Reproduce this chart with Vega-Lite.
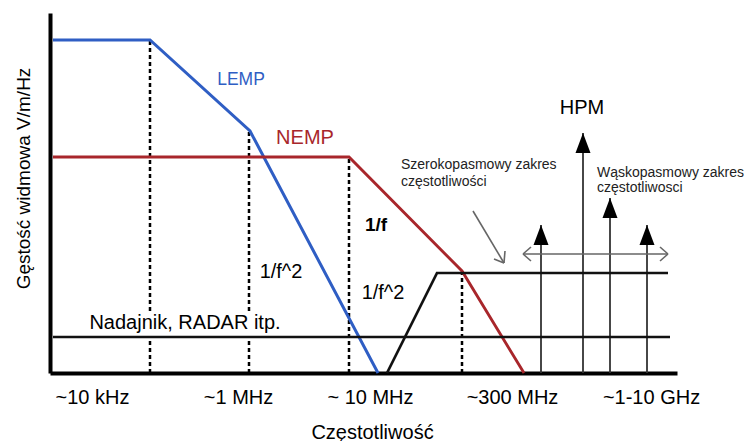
{
  "$schema": "https://vega.github.io/schema/vega-lite/v6.json",
  "width": 627,
  "height": 360,
  "autosize": "none",
  "padding": {"left": 50, "top": 13, "right": 67, "bottom": 68},
  "background": "white",
  "config": {"view": {"stroke": null}, "font": "Liberation Sans"},
  "datasets": {
    "lines": [
      {"series": "LEMP", "ord": 1, "x": 3, "y": 333},
      {"series": "LEMP", "ord": 2, "x": 100, "y": 333},
      {"series": "LEMP", "ord": 3, "x": 200, "y": 242},
      {"series": "LEMP", "ord": 4, "x": 328, "y": 0},
      {"series": "NEMP", "ord": 1, "x": 3, "y": 216},
      {"series": "NEMP", "ord": 2, "x": 299, "y": 216},
      {"series": "NEMP", "ord": 3, "x": 412, "y": 102},
      {"series": "NEMP", "ord": 4, "x": 474, "y": 0},
      {"series": "HPM", "ord": 1, "x": 337, "y": 0},
      {"series": "HPM", "ord": 2, "x": 387, "y": 100},
      {"series": "HPM", "ord": 3, "x": 618, "y": 100},
      {"series": "RADAR", "ord": 1, "x": 3, "y": 36},
      {"series": "RADAR", "ord": 2, "x": 620, "y": 36}
    ],
    "segs": [
      {"kind": "dotted", "x": 100, "y": 0, "x2": 100, "y2": 33},
      {"kind": "dotted", "x": 100, "y": 62, "x2": 100, "y2": 333},
      {"kind": "dotted", "x": 199, "y": 0, "x2": 199, "y2": 33},
      {"kind": "dotted", "x": 199, "y": 62, "x2": 199, "y2": 242},
      {"kind": "dotted", "x": 299, "y": 0, "x2": 299, "y2": 216},
      {"kind": "dotted", "x": 412, "y": 0, "x2": 412, "y2": 102},
      {"kind": "arrow", "x": 491, "y": 0, "x2": 491, "y2": 148},
      {"kind": "arrow", "x": 533, "y": 0, "x2": 533, "y2": 240},
      {"kind": "arrow", "x": 560, "y": 0, "x2": 560, "y2": 175},
      {"kind": "arrow", "x": 597, "y": 0, "x2": 597, "y2": 148},
      {"kind": "gray", "x": 473, "y": 119, "x2": 618, "y2": 119},
      {"kind": "gray", "x": 473, "y": 119, "x2": 481, "y2": 126},
      {"kind": "gray", "x": 473, "y": 119, "x2": 481, "y2": 112},
      {"kind": "gray", "x": 618, "y": 119, "x2": 610, "y2": 126},
      {"kind": "gray", "x": 618, "y": 119, "x2": 610, "y2": 112},
      {"kind": "gray", "x": 423, "y": 162, "x2": 454, "y2": 110},
      {"kind": "gray", "x": 454, "y": 110, "x2": 444, "y2": 114},
      {"kind": "gray", "x": 454, "y": 110, "x2": 455, "y2": 122}
    ],
    "heads": [
      {"x": 491, "y": 138},
      {"x": 533, "y": 230},
      {"x": 560, "y": 165},
      {"x": 597, "y": 138}
    ],
    "texts": [
      {"kind": "lemp", "x": 191, "y": 293, "label": "LEMP"},
      {"kind": "nemp", "x": 255, "y": 235, "label": "NEMP"},
      {"kind": "bold", "x": 326, "y": 148, "label": "1/f"},
      {"kind": "plain", "x": 231, "y": 101, "label": "1/f^2"},
      {"kind": "plain", "x": 333, "y": 80, "label": "1/f^2"},
      {"kind": "plain", "x": 135, "y": 50, "label": "Nadajnik, RADAR itp."},
      {"kind": "big", "x": 532, "y": 265, "label": "HPM"},
      {"kind": "small", "x": 351, "y": 208, "label": "Szerokopasmowy zakres"},
      {"kind": "small", "x": 351, "y": 191, "label": "częstotliwości"},
      {"kind": "small", "x": 547, "y": 200, "label": "Wąskopasmowy zakres"},
      {"kind": "small", "x": 547, "y": 185, "label": "częstotliwosci"}
    ]
  },
  "layer": [
    {
      "data": {"name": "segs"},
      "transform": [{"filter": "datum.kind === 'dotted'"}],
      "mark": {"type": "rule", "color": "black", "strokeWidth": 2.5, "strokeDash": [4, 3]},
      "encoding": {
        "x": {"field": "x", "type": "quantitative", "scale": {"domain": [0, 627], "nice": false, "zero": false},
          "axis": {"values": [42, 188, 320, 462, 601],
            "labelExpr": "datum.value == 42 ? '~10 kHz' : datum.value == 188 ? '~1 MHz' : datum.value == 320 ? '~ 10 MHz' : datum.value == 462 ? '~300 MHz' : '~1-10 GHz'",
            "grid": false, "ticks": false, "tickSize": 0, "labelPadding": 14, "labelFontSize": 20, "labelColor": "black",
            "labelFont": "Liberation Sans", "labelFlush": false, "labelOverlap": false,
            "domainColor": "black", "domainWidth": 4,
            "title": "Częstotliwość", "titleFontSize": 20, "titleFontWeight": "normal", "titleColor": "black",
            "titleX": 322, "titleY": 59, "titleBaseline": "middle", "titleAlign": "center", "titleFont": "Liberation Sans"}},
        "y": {"field": "y", "type": "quantitative", "scale": {"domain": [0, 360], "nice": false, "zero": false},
          "axis": {"grid": false, "ticks": false, "labels": false, "domainColor": "black", "domainWidth": 4,
            "title": "Gęstość widmowa V/m/Hz", "titleFontSize": 19, "titleFontWeight": "normal", "titleColor": "black",
            "titleAngle": -90, "titleX": -27, "titleY": 165, "titleAlign": "center", "titleBaseline": "middle", "titleFont": "Liberation Sans"}},
        "x2": {"field": "x2"},
        "y2": {"field": "y2"}
      }
    },
    {
      "data": {"name": "segs"},
      "transform": [{"filter": "datum.kind === 'arrow'"}],
      "mark": {"type": "rule", "color": "#333333", "strokeWidth": 1.8},
      "encoding": {
        "x": {"field": "x", "type": "quantitative"},
        "y": {"field": "y", "type": "quantitative"},
        "x2": {"field": "x2"},
        "y2": {"field": "y2"}
      }
    },
    {
      "data": {"name": "segs"},
      "transform": [{"filter": "datum.kind === 'gray'"}],
      "mark": {"type": "rule", "color": "#666666", "strokeWidth": 1.6},
      "encoding": {
        "x": {"field": "x", "type": "quantitative"},
        "y": {"field": "y", "type": "quantitative"},
        "x2": {"field": "x2"},
        "y2": {"field": "y2"}
      }
    },
    {
      "data": {"name": "lines"},
      "mark": {"type": "line", "strokeJoin": "miter"},
      "encoding": {
        "x": {"field": "x", "type": "quantitative"},
        "y": {"field": "y", "type": "quantitative"},
        "order": {"field": "ord"},
        "detail": {"field": "series"},
        "color": {"field": "series", "type": "nominal", "legend": null,
          "scale": {"domain": ["LEMP", "NEMP", "HPM", "RADAR"], "range": ["#2f5ec4", "#a8262b", "#111111", "#111111"]}},
        "strokeWidth": {"field": "series", "type": "nominal", "legend": null,
          "scale": {"domain": ["LEMP", "NEMP", "HPM", "RADAR"], "range": [3, 2.6, 3, 2]}}
      }
    },
    {
      "data": {"name": "heads"},
      "mark": {"type": "point", "shape": "M0,-1L0.75,1L-0.75,1Z", "filled": true, "color": "black", "opacity": 1, "size": 400},
      "encoding": {
        "x": {"field": "x", "type": "quantitative"},
        "y": {"field": "y", "type": "quantitative"}
      }
    },
    {
      "data": {"name": "texts"},
      "transform": [{"filter": "datum.kind === 'lemp'"}],
      "mark": {"type": "text", "fontSize": 17.5, "color": "#2f5ec4", "align": "center", "baseline": "middle"},
      "encoding": {"x": {"field": "x", "type": "quantitative"}, "y": {"field": "y", "type": "quantitative"}, "text": {"field": "label"}}
    },
    {
      "data": {"name": "texts"},
      "transform": [{"filter": "datum.kind === 'nemp'"}],
      "mark": {"type": "text", "fontSize": 20, "color": "#a8262b", "align": "center", "baseline": "middle"},
      "encoding": {"x": {"field": "x", "type": "quantitative"}, "y": {"field": "y", "type": "quantitative"}, "text": {"field": "label"}}
    },
    {
      "data": {"name": "texts"},
      "transform": [{"filter": "datum.kind === 'bold'"}],
      "mark": {"type": "text", "fontSize": 19, "fontWeight": "bold", "color": "black", "align": "center", "baseline": "middle"},
      "encoding": {"x": {"field": "x", "type": "quantitative"}, "y": {"field": "y", "type": "quantitative"}, "text": {"field": "label"}}
    },
    {
      "data": {"name": "texts"},
      "transform": [{"filter": "datum.kind === 'plain'"}],
      "mark": {"type": "text", "fontSize": 20, "color": "black", "align": "center", "baseline": "middle"},
      "encoding": {"x": {"field": "x", "type": "quantitative"}, "y": {"field": "y", "type": "quantitative"}, "text": {"field": "label"}}
    },
    {
      "data": {"name": "texts"},
      "transform": [{"filter": "datum.kind === 'big'"}],
      "mark": {"type": "text", "fontSize": 20, "color": "black", "align": "center", "baseline": "middle"},
      "encoding": {"x": {"field": "x", "type": "quantitative"}, "y": {"field": "y", "type": "quantitative"}, "text": {"field": "label"}}
    },
    {
      "data": {"name": "texts"},
      "transform": [{"filter": "datum.kind === 'small'"}],
      "mark": {"type": "text", "fontSize": 14, "color": "#222222", "align": "left", "baseline": "middle"},
      "encoding": {"x": {"field": "x", "type": "quantitative"}, "y": {"field": "y", "type": "quantitative"}, "text": {"field": "label"}}
    }
  ]
}
